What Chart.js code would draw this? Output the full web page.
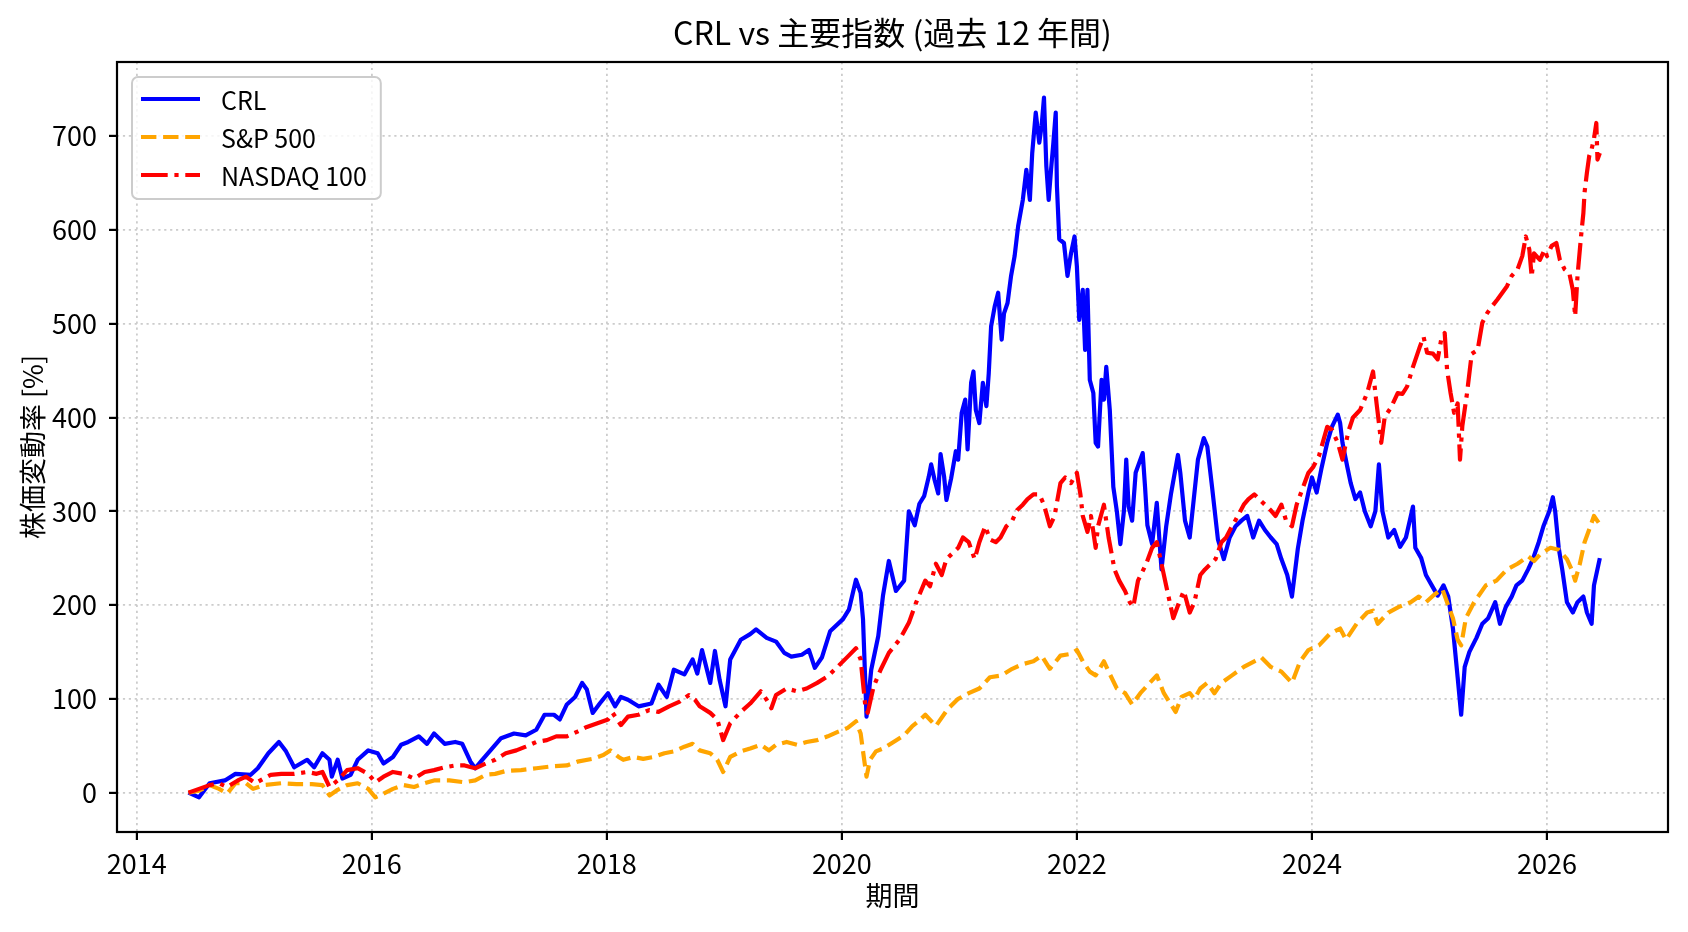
<!DOCTYPE html>
<html lang="ja">
<head>
<meta charset="utf-8">
<title>CRL vs 主要指数</title>
<script src="https://cdn.jsdelivr.net/npm/chart.js@4.4.1/dist/chart.umd.min.js"></script>
<style>
  html, body { margin: 0; padding: 0; background: #ffffff; }
  #wrap { width: 1688px; height: 932px; }
</style>
</head>
<body>
<div id="wrap"><canvas id="perfChart" width="1688" height="932"></canvas></div>
<script>
/* ---- data (decimal years / % change) ---- */
const titleText = 'CRL vs 主要指数 (過去 12 年間)';
const seriesLabels = ['CRL', 'S&P 500', 'NASDAQ 100'];
const xTickYears = [2014, 2016, 2018, 2020, 2022, 2024, 2026];
const yTickValues = [0, 100, 200, 300, 400, 500, 600, 700];

const crlYears = [
  2014.44, 2014.53, 2014.62, 2014.75, 2014.84, 2014.97, 2015.03, 2015.12, 2015.21, 2015.27,
  2015.34, 2015.45, 2015.51, 2015.58, 2015.64, 2015.66, 2015.71, 2015.75, 2015.82, 2015.88,
  2015.97, 2016.05, 2016.10, 2016.18, 2016.25, 2016.31, 2016.40, 2016.47, 2016.53, 2016.62,
  2016.71, 2016.77, 2016.84, 2016.88, 2016.94, 2017.01, 2017.10, 2017.21, 2017.31, 2017.40,
  2017.47, 2017.55, 2017.60, 2017.66, 2017.73, 2017.79, 2017.83, 2017.88, 2017.94, 2018.01,
  2018.07, 2018.12, 2018.18, 2018.27, 2018.38, 2018.44, 2018.51, 2018.57, 2018.66, 2018.73,
  2018.77, 2018.81, 2018.88, 2018.92, 2018.96, 2019.01, 2019.05, 2019.14, 2019.22, 2019.27,
  2019.36, 2019.44, 2019.51, 2019.57, 2019.66, 2019.72, 2019.77, 2019.83, 2019.90, 2020.01,
  2020.06, 2020.12, 2020.16, 2020.18, 2020.21, 2020.25, 2020.31, 2020.35, 2020.40, 2020.46,
  2020.53, 2020.57, 2020.62, 2020.66, 2020.70, 2020.74, 2020.76, 2020.79, 2020.82, 2020.84,
  2020.87, 2020.89, 2020.93, 2020.97, 2020.99, 2021.02, 2021.05, 2021.07, 2021.10, 2021.12,
  2021.14, 2021.17, 2021.20, 2021.23, 2021.25, 2021.27, 2021.30, 2021.33, 2021.36, 2021.38,
  2021.41, 2021.44, 2021.47, 2021.50, 2021.54, 2021.57, 2021.60, 2021.62, 2021.65, 2021.68,
  2021.70, 2021.72, 2021.74, 2021.76, 2021.78, 2021.80, 2021.82, 2021.83, 2021.85, 2021.89,
  2021.92, 2021.95, 2021.98, 2022.00, 2022.02, 2022.05, 2022.07, 2022.09, 2022.11, 2022.14,
  2022.16, 2022.18, 2022.21, 2022.23, 2022.25, 2022.28, 2022.31, 2022.34, 2022.37, 2022.40,
  2022.42, 2022.44, 2022.47, 2022.50, 2022.56, 2022.58, 2022.60, 2022.64, 2022.68, 2022.72,
  2022.76, 2022.80, 2022.86, 2022.88, 2022.92, 2022.96, 2023.03, 2023.08, 2023.11, 2023.15,
  2023.20, 2023.25, 2023.30, 2023.35, 2023.40, 2023.45, 2023.50, 2023.55, 2023.60, 2023.65,
  2023.70, 2023.74, 2023.79, 2023.83, 2023.88, 2023.92, 2023.97, 2024.00, 2024.04, 2024.08,
  2024.13, 2024.17, 2024.22, 2024.24, 2024.26, 2024.30, 2024.33, 2024.37, 2024.41, 2024.45,
  2024.50, 2024.54, 2024.57, 2024.60, 2024.65, 2024.70, 2024.75, 2024.80, 2024.86, 2024.88,
  2024.93, 2024.97, 2025.02, 2025.07, 2025.12, 2025.16, 2025.20, 2025.24, 2025.27, 2025.30,
  2025.34, 2025.40, 2025.45, 2025.50, 2025.56, 2025.60, 2025.65, 2025.70, 2025.74, 2025.79,
  2025.84, 2025.88, 2025.93, 2025.97, 2026.02, 2026.05, 2026.07, 2026.10, 2026.13, 2026.17,
  2026.22, 2026.26, 2026.31, 2026.34, 2026.38, 2026.40, 2026.45
];
const crlPct = [
  0, -5, 10, 13, 20, 19, 26, 42, 54, 44,
  27, 35, 27, 42, 35, 17, 35, 15, 19, 35,
  45, 42, 31, 38, 51, 54, 60, 52, 63, 52,
  54, 52, 33, 26, 35, 45, 58, 63, 61, 67,
  83, 83, 78, 94, 102, 117, 110, 85, 95, 106,
  92, 102, 99, 92, 95, 115, 102, 131, 126, 142,
  127, 152, 117, 151, 120, 92, 142, 163, 169, 174,
  165, 161, 149, 145, 147, 152, 133, 144, 172, 185,
  195, 227, 213, 185, 81, 131, 167, 210, 247, 215,
  226, 300, 285, 308, 316, 337, 350, 333, 319, 361,
  337, 312, 335, 364, 355, 405, 419, 366, 437, 449,
  408, 394, 437, 412, 447, 497, 518, 533, 483, 511,
  522, 551, 572, 604, 632, 664, 632, 682, 725, 693,
  711, 741, 668, 632, 664, 693, 725, 647, 590, 586,
  551, 575, 593, 561, 504, 536, 472, 536, 440, 426,
  373, 369, 440, 419, 454, 408, 326, 300, 265, 300,
  355, 305, 290, 341, 362, 326, 285, 265, 309, 238,
  284, 318, 360, 341, 290, 272, 355, 378, 369, 326,
  270, 249, 272, 284, 290, 295, 272, 290, 280, 272,
  265, 249, 232, 209, 260, 290, 320, 336, 320, 345,
  373, 390, 403, 394, 373, 348, 330, 313, 320, 300,
  284, 300, 350, 300, 272, 280, 262, 272, 305, 261,
  250, 232, 221, 210, 221, 209, 175, 123, 83, 134,
  150, 165, 180, 186, 203, 180, 198, 209, 221, 226,
  238, 249, 267, 284, 300, 315, 300, 261, 238, 203,
  192, 203, 209, 192, 180, 221, 250
];

const spxYears = [
  2014.44, 2014.53, 2014.62, 2014.70, 2014.77, 2014.84, 2014.93, 2014.99, 2015.08, 2015.23,
  2015.36, 2015.49, 2015.58, 2015.64, 2015.71, 2015.79, 2015.88, 2015.97, 2016.03, 2016.10,
  2016.18, 2016.27, 2016.36, 2016.45, 2016.53, 2016.66, 2016.79, 2016.88, 2016.97, 2017.05,
  2017.14, 2017.27, 2017.40, 2017.53, 2017.66, 2017.75, 2017.88, 2017.97, 2018.03, 2018.10,
  2018.14, 2018.23, 2018.31, 2018.40, 2018.49, 2018.57, 2018.66, 2018.73, 2018.79, 2018.88,
  2018.94, 2018.99, 2019.05, 2019.14, 2019.22, 2019.31, 2019.38, 2019.44, 2019.53, 2019.62,
  2019.70, 2019.79, 2019.88, 2019.97, 2020.05, 2020.12, 2020.16, 2020.19, 2020.21, 2020.24,
  2020.29, 2020.35, 2020.44, 2020.53, 2020.60, 2020.66, 2020.71, 2020.80, 2020.90, 2020.99,
  2021.08, 2021.17, 2021.26, 2021.36, 2021.45, 2021.54, 2021.63, 2021.70, 2021.77, 2021.86,
  2021.95, 2022.00, 2022.05, 2022.11, 2022.16, 2022.23, 2022.27, 2022.34, 2022.41, 2022.47,
  2022.54, 2022.62, 2022.68, 2022.74, 2022.80, 2022.84, 2022.89, 2022.96, 2023.00, 2023.05,
  2023.11, 2023.17, 2023.23, 2023.32, 2023.42, 2023.51, 2023.57, 2023.65, 2023.74, 2023.83,
  2023.90, 2023.97, 2024.06, 2024.15, 2024.24, 2024.29, 2024.38, 2024.47, 2024.52, 2024.56,
  2024.65, 2024.74, 2024.84, 2024.91, 2024.97, 2025.04, 2025.11, 2025.15, 2025.20, 2025.24,
  2025.27, 2025.31, 2025.38, 2025.48, 2025.57, 2025.66, 2025.75, 2025.84, 2025.89, 2025.95,
  2026.03, 2026.10, 2026.17, 2026.21, 2026.24, 2026.28, 2026.32, 2026.37, 2026.40, 2026.45
];
const spxPct = [
  0, 2, 8, 4, -1, 10, 10, 4, 8, 10,
  9, 9, 8, -3, 3, 8, 10, 4, -5, -1,
  4, 8, 6, 10, 13, 13, 11, 13, 19, 20,
  23, 24, 26, 28, 29, 33, 36, 40, 45, 38,
  35, 38, 36, 38, 42, 44, 49, 52, 45, 42,
  35, 22, 38, 44, 47, 51, 45, 51, 54, 51,
  54, 56, 60, 65, 69, 76, 63, 35, 17, 35,
  44, 47, 54, 61, 71, 77, 83, 71, 89, 100,
  106, 111, 123, 125, 132, 137, 140, 146, 132, 146,
  148, 152, 140, 129, 125, 140, 129, 111, 106, 94,
  106, 117, 125, 106, 94, 86, 102, 106, 100, 111,
  117, 106, 117, 125, 134, 140, 144, 134, 129, 117,
  140, 152, 157, 169, 175, 163, 180, 192, 194, 180,
  192, 198, 203, 209, 203, 211, 217, 203, 186, 163,
  157, 186, 203, 221, 226, 238, 244, 252, 247, 255,
  261, 259, 249, 238, 226, 244, 267, 284, 295, 286
];

const ndxYears = [
  2014.44, 2014.53, 2014.62, 2014.70, 2014.77, 2014.86, 2014.93, 2015.01, 2015.08, 2015.14,
  2015.23, 2015.34, 2015.45, 2015.53, 2015.58, 2015.64, 2015.71, 2015.79, 2015.88, 2015.97,
  2016.03, 2016.10, 2016.18, 2016.27, 2016.36, 2016.45, 2016.53, 2016.62, 2016.71, 2016.79,
  2016.88, 2016.97, 2017.05, 2017.14, 2017.23, 2017.31, 2017.40, 2017.49, 2017.57, 2017.66,
  2017.75, 2017.83, 2017.92, 2018.01, 2018.05, 2018.12, 2018.18, 2018.27, 2018.36, 2018.44,
  2018.53, 2018.62, 2018.70, 2018.75, 2018.79, 2018.88, 2018.94, 2018.99, 2019.05, 2019.14,
  2019.22, 2019.31, 2019.36, 2019.40, 2019.44, 2019.53, 2019.62, 2019.70, 2019.79, 2019.88,
  2019.97, 2020.05, 2020.12, 2020.16, 2020.20, 2020.22, 2020.27, 2020.33, 2020.40, 2020.49,
  2020.57, 2020.63, 2020.71, 2020.75, 2020.80, 2020.85, 2020.89, 2020.94, 2020.99, 2021.03,
  2021.08, 2021.13, 2021.17, 2021.22, 2021.26, 2021.31, 2021.35, 2021.40, 2021.45, 2021.49,
  2021.54, 2021.58, 2021.63, 2021.68, 2021.72, 2021.77, 2021.81, 2021.86, 2021.90, 2021.95,
  2022.00, 2022.03, 2022.05, 2022.09, 2022.12, 2022.16, 2022.18, 2022.23, 2022.27, 2022.32,
  2022.36, 2022.41, 2022.45, 2022.48, 2022.52, 2022.59, 2022.64, 2022.68, 2022.73, 2022.78,
  2022.82, 2022.87, 2022.91, 2022.96, 2023.00, 2023.05, 2023.09, 2023.14, 2023.18, 2023.23,
  2023.27, 2023.32, 2023.37, 2023.42, 2023.46, 2023.51, 2023.55, 2023.60, 2023.65, 2023.69,
  2023.74, 2023.78, 2023.83, 2023.87, 2023.92, 2023.97, 2024.01, 2024.06, 2024.13, 2024.17,
  2024.22, 2024.26, 2024.31, 2024.35, 2024.41, 2024.47, 2024.52, 2024.55, 2024.59, 2024.62,
  2024.67, 2024.73, 2024.77, 2024.81, 2024.86, 2024.92, 2024.95, 2024.98, 2025.03, 2025.07,
  2025.10, 2025.13, 2025.15, 2025.18, 2025.21, 2025.24, 2025.26, 2025.28, 2025.32, 2025.36,
  2025.41, 2025.45, 2025.49, 2025.53, 2025.58, 2025.62, 2025.66, 2025.70, 2025.75, 2025.79,
  2025.82, 2025.85, 2025.87, 2025.89, 2025.94, 2025.98, 2026.00, 2026.04, 2026.08, 2026.11,
  2026.15, 2026.19, 2026.22, 2026.24, 2026.26, 2026.29, 2026.31, 2026.32, 2026.34, 2026.36,
  2026.38, 2026.40, 2026.42, 2026.43, 2026.45
];
const ndxPct = [
  0, 4, 8, 10, 6, 13, 17, 10, 15, 19,
  20, 20, 22, 20, 22, 6, 13, 24, 26, 20,
  11, 17, 22, 20, 15, 22, 24, 27, 29, 29,
  26, 31, 35, 42, 45, 49, 54, 56, 60, 60,
  65, 70, 74, 78, 85, 72, 81, 83, 88, 86,
  92, 97, 104, 99, 92, 85, 78, 56, 74, 86,
  95, 108, 99, 90, 104, 111, 108, 111, 117, 124,
  135, 145, 154, 142, 92, 85, 113, 131, 149, 163,
  181, 202, 226, 220, 244, 232, 249, 255, 261, 272,
  267, 249, 267, 284, 270, 267, 272, 284, 290, 301,
  307, 313, 318, 318, 307, 284, 295, 330, 336, 330,
  341, 318, 295, 278, 295, 261, 284, 307, 272, 238,
  226, 215, 203, 198, 226, 244, 261, 267, 238, 209,
  186, 203, 215, 192, 203, 232, 238, 244, 249, 267,
  272, 284, 295, 307, 313, 318, 313, 307, 301, 295,
  307, 290, 284, 307, 324, 341, 347, 359, 390, 387,
  373, 355, 385, 400, 408, 426, 449, 415, 373, 401,
  410, 426, 425, 433, 454, 476, 486, 469, 468, 462,
  483, 490, 451, 426, 405, 415, 355, 391, 426, 468,
  472, 501, 511, 518, 526, 533, 540, 551, 558, 572,
  593, 579, 550, 575, 568, 579, 572, 583, 586, 568,
  558, 554, 536, 508, 551, 593, 618, 640, 661, 679,
  686, 697, 714, 675, 682
];

/* ---- chart ---- */
const FONT = "'Noto Sans CJK JP', sans-serif";
const toPoints = (xs, ys) => xs.map((x, i) => ({ x, y: ys[i] }));

const decorPlugin = {
  id: 'decor',
  afterDraw(chart) {
    const { ctx, chartArea: a } = chart;
    ctx.save();

    /* axes frame on all four sides */
    ctx.strokeStyle = '#000000';
    ctx.lineWidth = 2.2;
    ctx.setLineDash([]);
    ctx.strokeRect(a.left, a.top, a.right - a.left, a.bottom - a.top);

    /* title, centred over the plot area */
    ctx.fillStyle = '#000000';
    ctx.font = `32px ${FONT}`;
    ctx.textAlign = 'center';
    ctx.textBaseline = 'middle';
    ctx.fillText(titleText, (a.left + a.right) / 2, 33);

    /* legend, upper left */
    ctx.font = `25px ${FONT}`;
    const rows = [99, 137, 175];
    const textX = 221;
    const textW = Math.max(...seriesLabels.map(l => ctx.measureText(l).width));
    const boxL = 132, boxT = 77, boxB = 199;
    const boxR = Math.max(372, textX + textW + 14);
    ctx.beginPath();
    ctx.roundRect(boxL, boxT, boxR - boxL, boxB - boxT, 6);
    ctx.fillStyle = 'rgba(255,255,255,0.8)';
    ctx.fill();
    ctx.strokeStyle = '#cccccc';
    ctx.lineWidth = 2;
    ctx.stroke();

    chart.data.datasets.forEach((ds, i) => {
      ctx.beginPath();
      ctx.setLineDash(ds.borderDash || []);
      ctx.lineCap = 'butt';
      ctx.strokeStyle = ds.borderColor;
      ctx.lineWidth = ds.borderWidth;
      ctx.moveTo(141, rows[i]);
      ctx.lineTo(200, rows[i]);
      ctx.stroke();
      ctx.setLineDash([]);
      ctx.fillStyle = '#000000';
      ctx.textAlign = 'left';
      ctx.textBaseline = 'middle';
      ctx.fillText(ds.label, textX, rows[i] + 1);
    });

    ctx.restore();
  }
};

const ctx = document.getElementById('perfChart').getContext('2d');

new Chart(ctx, {
  type: 'line',
  data: {
    datasets: [
      {
        label: seriesLabels[0],
        data: toPoints(crlYears, crlPct),
        borderColor: '#0000ff',
        borderWidth: 4.2,
        order: 3
      },
      {
        label: seriesLabels[1],
        data: toPoints(spxYears, spxPct),
        borderColor: '#ffa500',
        borderWidth: 4.2,
        borderDash: [15.4, 6.7],
        order: 2
      },
      {
        label: seriesLabels[2],
        data: toPoints(ndxYears, ndxPct),
        borderColor: '#ff0000',
        borderWidth: 4.2,
        borderDash: [26.7, 6.7, 4.2, 6.7],
        order: 1
      }
    ]
  },
  options: {
    responsive: false,
    maintainAspectRatio: false,
    devicePixelRatio: 1,
    animation: false,
    layout: { padding: { top: 62, right: 20, left: 0, bottom: 0 } },
    elements: {
      point: { radius: 0, hoverRadius: 0 },
      line: { tension: 0, fill: false, borderJoinStyle: 'round', borderCapStyle: 'butt' }
    },
    plugins: {
      legend: { display: false },
      title: { display: false },
      tooltip: { enabled: false }
    },
    scales: {
      x: {
        type: 'linear',
        min: 2013.832,
        max: 2027.03,
        afterBuildTicks: scale => { scale.ticks = xTickYears.map(v => ({ value: v })); },
        afterFit: scale => { scale.height = 100; },
        grid: {
          color: '#cccccc',
          lineWidth: 1.8,
          drawTicks: true,
          tickLength: 8,
          tickWidth: 2.2,
          tickColor: '#000000'
        },
        border: { display: false, dash: [2.2, 3.7] },
        ticks: {
          color: '#000000',
          padding: 10,
          maxRotation: 0,
          autoSkip: false,
          font: { family: FONT, size: 27, lineHeight: 1 },
          callback: value => String(value)
        },
        title: {
          display: true,
          text: '期間',
          color: '#000000',
          font: { family: FONT, size: 27, lineHeight: 1 },
          padding: { top: 0, bottom: 23 }
        }
      },
      y: {
        type: 'linear',
        min: -42,
        max: 779,
        afterBuildTicks: scale => { scale.ticks = yTickValues.map(v => ({ value: v })); },
        afterFit: scale => { scale.width = 117; },
        grid: {
          color: '#cccccc',
          lineWidth: 1.8,
          drawTicks: true,
          tickLength: 8,
          tickWidth: 2.2,
          tickColor: '#000000'
        },
        border: { display: false, dash: [2.2, 3.7] },
        ticks: {
          color: '#000000',
          padding: 12,
          autoSkip: false,
          font: { family: FONT, size: 27, lineHeight: 1 },
          callback: value => String(value)
        },
        title: {
          display: true,
          text: '株価変動率 [%]',
          color: '#000000',
          font: { family: FONT, size: 27, lineHeight: 1 },
          padding: { top: 19, bottom: 0 }
        }
      }
    }
  },
  plugins: [decorPlugin]
});
</script>
</body>
</html>
